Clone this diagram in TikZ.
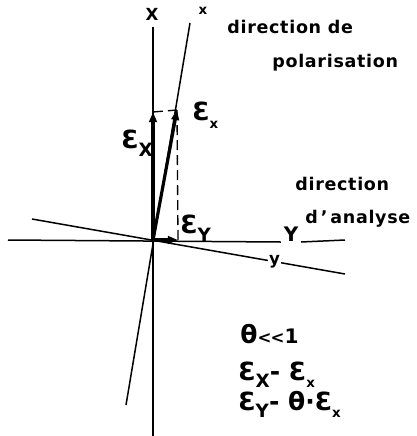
\documentclass[tikz,border=0pt]{standalone}
\usepackage{fontspec}
\setmainfont{DejaVu Sans}
\usetikzlibrary{arrows.meta}
\newcommand{\champ}[2][9pt]{Ɛ\raisebox{-0.55ex}{\fontsize{#1}{#1}\selectfont #2}}

\begin{document}
\begin{tikzpicture}[
    x=0.6pt, y=-0.6pt,
    axe/.style={line width=0.9pt},
    vect/.style={line width=1.9pt, -{Triangle[length=6pt,width=4.5pt]}},
    proj/.style={line width=0.8pt, dash pattern=on 6pt off 3pt},
    etiq/.style={font=\bfseries\fontsize{10.5pt}{12pt}\selectfont\addfontfeature{LetterSpace=4}, inner sep=0pt},
    champlab/.style={font=\bfseries\fontsize{15pt}{18pt}\selectfont, inner sep=0pt, anchor=west},
    formule/.style={font=\bfseries\fontsize{15pt}{18pt}\selectfont, inner sep=0pt, anchor=base west}
]
\useasboundingbox (0,0) rectangle (417,436);

% axes
\coordinate (O) at (153,240);
\coordinate (Xtop) at (153,27);
\coordinate (Xbot) at (153,436);
\coordinate (xtop) at (190,23);
\coordinate (xbot) at (126,405);
\coordinate (Yleft) at (8,240);
\coordinate (Yright) at (345,240);
\coordinate (ylft) at (32,219);
\coordinate (yrgt) at (345,274);

\node[etiq, font=\bfseries\fontsize{10pt}{12pt}\selectfont] (labX) at (152,14) {X};
\node[etiq, font=\bfseries\fontsize{8pt}{10pt}\selectfont] (labx) at (203,11) {x};
\node[etiq, font=\bfseries\fontsize{12pt}{14pt}\selectfont, anchor=south,
      inner xsep=1.5pt] (labY) at (291,242) {Y};

\draw[axe] (Xtop) -- (Xbot);
\draw[axe] (xtop) -- (xbot);
\draw[axe] (Yleft) -- (labY.south west);
\draw[axe] (labY.south east) -- (Yright);
\draw[axe] (ylft) -- (yrgt)
    node[pos=0.775, fill=white, inner sep=0.5pt,
         font=\bfseries\fontsize{10pt}{12pt}\selectfont] (laby) {y};

% champ et projections
\coordinate (Ex) at (177,110);
\coordinate (EX) at (153,112);
\coordinate (EY) at (178,240);

\draw[proj] (EX) -- (Ex);
\draw[proj] (Ex) -- (EY);
\draw[vect] (O) -- (Ex);
\draw[vect] (O) -- (EX);
\draw[vect] (O) -- (EY);

\node[champlab] (lEx) at (192,115) {\champ[8pt]{x}};
\node[champlab] (lEX) at (121,143) {\champ[11pt]{X}};
\node[champlab] (lEY) at (180,228) {\champ[11pt]{Y}};

% textes
\node[etiq, anchor=base west] (dpol1) at (227,33) {direction de};
\node[etiq, anchor=base west] (dpol2) at (272,67) {polarisation};
\node[etiq, anchor=base west] (dan1) at (295,190) {direction};
\node[etiq, anchor=base west] (dan2) at (305,223) {d\,'\,analyse};

\node[formule] (f1) at (240,343) {θ{\fontsize{10pt}{10pt}\selectfont<\kern-0.5pt{}<}{\fontsize{12pt}{12pt}\selectfont 1}};
\node[formule] (f2) at (238,380) {\champ[11pt]{X}- \champ[8pt]{x}};
\node[formule] (f3) at (238,410) {\champ[11pt]{Y}- θ·\champ[8pt]{x}};
\end{tikzpicture}
\end{document}
